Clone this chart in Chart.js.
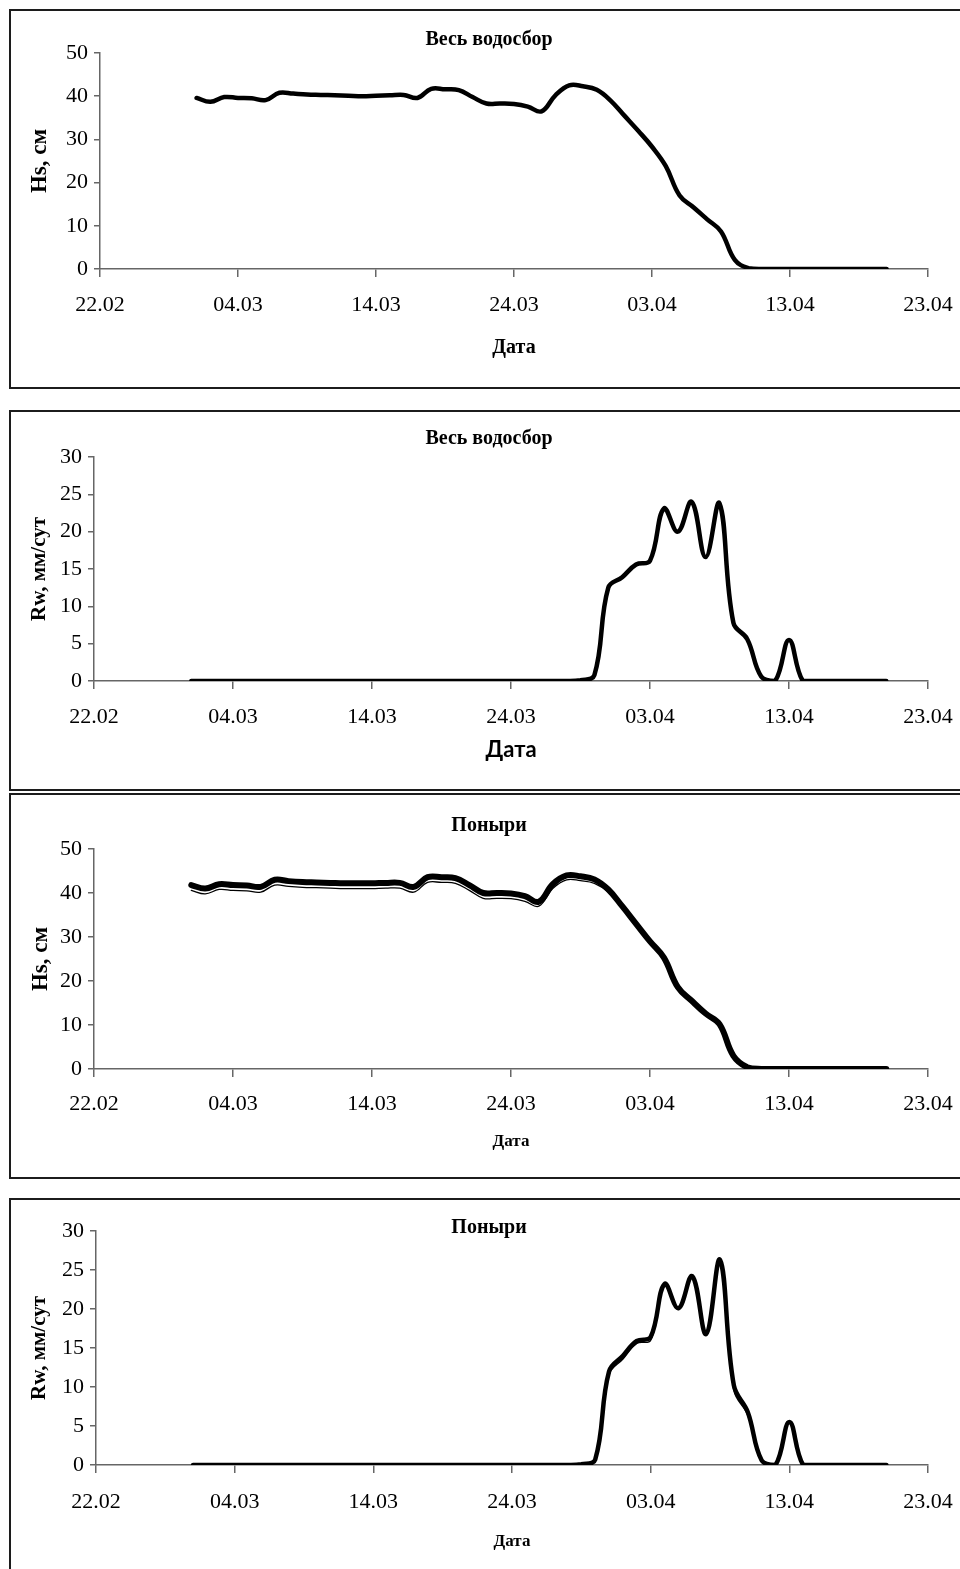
<!DOCTYPE html>
<html>
<head>
<meta charset="utf-8">
<script src="https://cdn.jsdelivr.net/npm/chart.js@4.4.1/dist/chart.umd.min.js"></script>
<style>
html,body{margin:0;padding:0;background:#fff;overflow:hidden;width:960px;height:1569px;position:relative;}
.panel{position:absolute;left:9px;width:990px;border:2px solid #1c1c1c;box-sizing:border-box;}
canvas{position:absolute;left:9px;display:block;}
</style>
</head>
<body>
<div class="panel" style="top:9px;height:380px"></div>
<div class="panel" style="top:410px;height:381px"></div>
<div class="panel" style="top:793px;height:386px"></div>
<div class="panel" style="top:1198px;height:400px"></div>
<canvas id="c1" width="960" height="379" style="top:9px"></canvas>
<canvas id="c2" width="960" height="380" style="top:410px"></canvas>
<canvas id="c3" width="960" height="385" style="top:793px"></canvas>
<canvas id="c4" width="960" height="371" style="top:1198px"></canvas>
<script>
// ---------------- DATA ----------------
const xTickLabels = ['22.02','04.03','14.03','24.03','03.04','13.04','23.04'];

const dates = ['01.03','02.03','03.03','04.03','05.03','06.03','07.03','08.03','09.03','10.03',
  '11.03','12.03','13.03','14.03','15.03','16.03','17.03','18.03','19.03','20.03',
  '21.03','22.03','23.03','24.03','25.03','26.03','27.03','28.03','29.03','30.03','31.03',
  '01.04','02.04','03.04','04.04','05.04','06.04','07.04','08.04','09.04','10.04',
  '11.04','12.04','13.04','14.04','15.04','16.04','17.04','18.04','19.04','20.04'];

// Весь водосбор — Hs, см
const hsAll = [39.6,38.7,39.8,39.6,39.5,39.1,40.8,40.6,40.4,40.3,
  40.2,40.1,40.0,40.1,40.2,40.3,39.6,41.7,41.6,41.4,
  39.8,38.3,38.3,38.2,37.6,36.5,40.2,42.5,42.3,41.5,39.0,
  35.5,32.0,28.3,23.8,17.0,14.3,11.5,8.7,2.1,0.2,
  0,0,0,0,0,0,0,0,0,0];

// Весь водосбор — Rw, мм/сут
const rwAll = [0,0,0,0,0,0,0,0,0,0,
  0,0,0,0,0,0,0,0,0,0,
  0,0,0,0,0,0,0,0,0.1,0.8,12.5,
  13.9,15.6,16.1,23.1,20.0,24.0,16.6,23.8,7.8,5.6,
  0.6,0,5.5,0,0,0,0,0,0,0];

// Поныри — Hs, см (two model runs)
const hsPon1 = [41.8,41.0,42.0,41.8,41.7,41.4,43.0,42.7,42.5,42.4,
  42.3,42.2,42.2,42.2,42.3,42.3,41.4,43.6,43.6,43.4,
  41.8,40.0,40.0,39.9,39.3,38.0,42.0,44.0,43.8,43.1,40.8,
  37.0,33.0,29.0,25.3,18.6,15.5,12.6,10.2,3.0,0.4,
  0,0,0,0,0,0,0,0,0,0];
const hsPon2 = [40.6,39.8,40.8,40.6,40.5,40.2,41.8,41.5,41.3,41.2,
  41.1,41.0,41.0,41.0,41.1,41.1,40.2,42.4,42.4,42.2,
  40.6,38.8,38.8,38.7,38.1,37.0,41.0,43.0,42.8,42.2,40.2,
  36.6,32.6,28.6,24.9,18.1,15.0,12.2,9.8,2.8,0.3,
  0,0,0,0,0,0,0,0,0,0];

// Поныри — Rw, мм/сут (two model runs)
const rwPon1 = [0,0,0,0,0,0,0,0,0,0,
  0,0,0,0,0,0,0,0,0,0,
  0,0,0,0,0,0,0,0,0.1,0.7,12.0,
  14.0,15.9,16.4,23.2,20.1,24.2,16.8,26.3,10.2,6.8,
  0.6,0,5.5,0,0,0,0,0,0,0];
const rwPon2 = [0,0,0,0,0,0,0,0,0,0,
  0,0,0,0,0,0,0,0,0,0,
  0,0,0,0,0,0,0,0,0.1,0.6,11.6,
  13.6,15.6,16.0,23.0,20.0,24.0,16.6,25.8,9.6,6.4,
  0.4,0,5.4,0,0,0,0,0,0,0];

// ---------------- HELPERS ----------------
function dayOffset(s){ // days since 22.02 (non-leap year)
  const p = s.split('.').map(Number);
  const doy = p[1]===2 ? 31+p[0] : (p[1]===3 ? 59+p[0] : 90+p[0]);
  return doy - 53;
}
function pts(vals){ return vals.map((v,i)=>({x:dayOffset(dates[i]), y:v})); }

const SERIF = "'Liberation Serif','Times New Roman',serif";
const AXIS = '#666';

function lineDs(vals, w){
  return {data:pts(vals), borderColor:'#000', borderWidth:w, pointRadius:0,
    tension:0.4, fill:false, borderJoinStyle:'round', borderCapStyle:'round'};
}

function makeChart(id, g){
  new Chart(document.getElementById(id), {
    type:'line',
    data:{datasets:g.datasets},
    options:{
      responsive:false, animation:false, events:[],
      layout:{padding:0},
      plugins:{
        legend:{display:false}, tooltip:{enabled:false},
        title:{display:true, text:g.title, color:'#000',
          font:{family:SERIF, weight:'bold', size:20, lineHeight:1.2},
          padding:{top:g.tPadT, bottom:g.tPadB}}
      },
      scales:{
        x:{type:'linear', min:0, max:60,
          afterFit:s=>{s.height=g.xh;},
          ticks:{stepSize:10, autoSkip:false, maxRotation:0, color:'#000',
            font:{family:SERIF, size:22, lineHeight:1.2}, padding:g.xTickPad,
            callback:v=>xTickLabels[Math.round(v/10)]},
          grid:{drawOnChartArea:false, drawTicks:true, tickLength:8, color:AXIS, lineWidth:1.5},
          border:{display:true, color:AXIS, width:1.5},
          title:{display:true, text:'Дата', color:'#000', font:g.xTitleFont,
            padding:{top:0, bottom:g.xTitlePadB}}
        },
        y:{type:'linear', min:0, max:g.yMax,
          afterFit:s=>{s.width=g.yw;},
          ticks:{stepSize:g.yStep, color:'#000', font:{family:SERIF, size:22, lineHeight:1.2}, padding:6},
          grid:{drawOnChartArea:false, drawTicks:true, tickLength:6, color:AXIS, lineWidth:1.5},
          border:{display:true, color:AXIS, width:1.5},
          title:{display:true, text:g.yTitle, color:'#000',
            font:{family:SERIF, weight:'bold', size:g.yTitleSize, lineHeight:1.2},
            padding:{top:g.yTitlePadT, bottom:0}}
        },
        yR:{position:'right', display:true,
          grid:{display:false}, border:{display:false}, ticks:{display:false},
          afterFit:s=>{s.width=41;}}
      }
    }
  });
}

makeChart('c1', {
  title:'Весь водосбор', tPadT:19, tPadB:1,
  datasets:[lineDs(hsAll,4.5)],
  xh:119, xTickPad:14.8,
  xTitleFont:{family:SERIF, weight:'bold', size:20, lineHeight:1.2}, xTitlePadB:28,
  yw:91, yMax:50, yStep:10, yTitle:'Hs, см', yTitleSize:23, yTitlePadT:17.2
});
makeChart('c2', {
  title:'Весь водосбор', tPadT:17, tPadB:6,
  datasets:[lineDs(rwAll,4.5)],
  xh:109, xTickPad:14.8,
  xTitleFont:{family:"Lato,'Open Sans',sans-serif", weight:'bold', size:22, lineHeight:1.2}, xTitlePadB:26.8,
  yw:85, yMax:30, yStep:5, yTitle:'Rw, мм/сут', yTitleSize:21, yTitlePadT:18.4
});
makeChart('c3', {
  title:'Поныри', tPadT:21, tPadB:11,
  datasets:[lineDs(hsPon1,6), lineDs(hsPon2,1.3)],
  xh:109, xTickPad:13.8,
  xTitleFont:{family:SERIF, weight:'bold', size:17, lineHeight:1.2}, xTitlePadB:25.8,
  yw:85, yMax:50, yStep:10, yTitle:'Hs, см', yTitleSize:23, yTitlePadT:18.2
});
makeChart('c4', {
  title:'Поныри', tPadT:18, tPadB:-9,
  datasets:[lineDs(rwPon1,4.5), lineDs(rwPon2,1.5)],
  xh:104, xTickPad:15.8,
  xTitleFont:{family:SERIF, weight:'bold', size:17, lineHeight:1.2}, xTitlePadB:16.8,
  yw:87, yMax:30, yStep:5, yTitle:'Rw, мм/сут', yTitleSize:21, yTitlePadT:18.4
});
</script>
</body>
</html>
